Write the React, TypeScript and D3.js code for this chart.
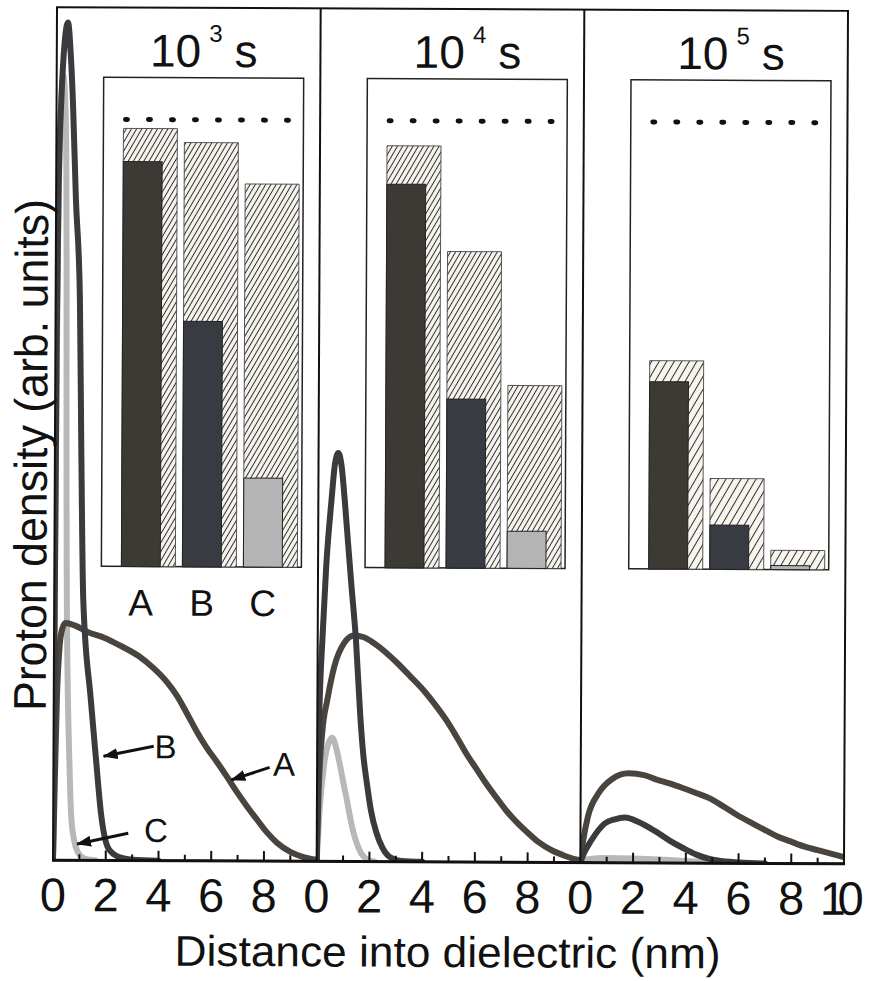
import React from "react";
import * as d3 from "d3";

type Pt = [number, number];

// ---------- data ----------
const timeExponents = ["3", "4", "5"]; // panel times: 10^n s
const categories = ["A", "B", "C"];
const minorTicks = d3.range(1, 10);
const tickLabels = [0, 2, 4, 6, 8];
const lastTickLabel = "10";

// inset bars: fraction of initial protons (dotted line = 1)
const totalFraction = [
  [0.98, 0.949, 0.857],
  [0.944, 0.708, 0.409],
  [0.466, 0.203, 0.043],
];
const retainedFraction = [
  [0.906, 0.549, 0.199],
  [0.858, 0.378, 0.083],
  [0.419, 0.099, 0.009],
];

// density profiles [nm, arb. units]
const curveA1: Pt[] = [[0,0],[0.06,10],[0.12,19],[0.2,24.5],[0.3,27],[0.43,27.8],[0.8,27.5],[1.25,26.8],[1.9,26.1],[2.5,25.2],[3.2,24],[3.8,22.5],[4.3,20.9],[4.68,19.3],[5.05,17.3],[5.44,15.1],[5.8,13.3],[6.2,11.6],[6.6,9.8],[6.96,8.1],[7.35,6.4],[7.72,4.9],[8.1,3.4],[8.48,2.2],[9.0,1.1],[9.5,0.5],[10,0.2]];
const curveB1: Pt[] = [[0,0],[0.02,30],[0.05,62],[0.1,80],[0.18,89],[0.3,96],[0.42,98.2],[0.53,94.5],[0.62,89],[0.75,77.6],[0.92,65.9],[1.0,48.3],[1.1,30.7],[1.4,19],[1.6,12.3],[1.82,5.3],[2.1,1.4],[2.5,0.4],[3,0.1],[4,0]];
const curveC1: Pt[] = [[0,0],[0.03,40],[0.08,72],[0.15,86],[0.25,92],[0.33,89],[0.38,82],[0.41,70],[0.43,55],[0.45,42],[0.48,30],[0.53,20],[0.6,12],[0.68,5.3],[0.8,2.3],[0.95,0.9],[1.2,0.2],[1.6,0]];

const curveA2: Pt[] = [[0,0],[0.06,8],[0.19,15.1],[0.38,19],[0.63,22.8],[1.0,25.6],[1.38,26.5],[1.75,26.3],[2.14,25.6],[2.6,24.5],[3.02,23.3],[3.5,21.8],[4.03,20.1],[4.5,18.3],[4.9,16.6],[5.3,14.6],[5.66,12.7],[6.05,10.9],[6.42,9.2],[6.8,7.6],[7.17,6.1],[7.55,4.8],[7.92,3.7],[8.4,2.4],[8.93,1.4],[9.4,0.8],[9.8,0.4],[10,0.3]];
const curveB2: Pt[] = [[0,0],[0.03,8],[0.06,15.1],[0.19,26.8],[0.31,34.6],[0.5,42.4],[0.62,46.5],[0.75,47.9],[0.87,46.5],[1.0,42.4],[1.13,37.5],[1.26,32.7],[1.45,26],[1.63,17],[1.75,12.5],[1.89,9.2],[2.05,6],[2.26,3.4],[2.5,1.6],[2.75,0.6],[3.2,0.1],[4,0]];
const curveC2: Pt[] = [[0,0],[0.1,6],[0.25,11],[0.42,13.8],[0.57,14.5],[0.72,13.3],[0.88,11.1],[1.0,9.2],[1.13,7.3],[1.3,4.6],[1.51,2.2],[1.7,0.9],[1.89,0.3],[2.2,0]];

const curveA3: Pt[] = [[0,0],[0.1,2.5],[0.28,5.4],[0.67,8.1],[1.18,9.8],[1.82,10.5],[2.4,10.3],[2.85,9.8],[3.4,9.3],[3.87,8.8],[4.4,8.2],[4.9,7.6],[5.4,6.7],[5.92,5.7],[6.45,4.8],[6.95,4.0],[7.45,3.2],[7.97,2.6],[8.5,2.0],[9.0,1.6],[9.5,1.2],[10,0.8]];
const curveB3: Pt[] = [[0,0],[0.15,1.2],[0.41,2.6],[0.92,4.6],[1.3,5.1],[1.69,5.3],[2.2,4.8],[2.85,3.7],[3.4,2.6],[3.87,1.8],[4.4,1.0],[4.9,0.5],[5.5,0.2],[6,0.1],[7,0]];
const curveC3: Pt[] = [[0,0],[0.3,0.4],[1,0.55],[2,0.5],[3,0.4],[4,0.25],[5,0.1],[6,0]];

const curvesA = [curveA1, curveA2, curveA3];
const curvesB = [curveB1, curveB2, curveB3];
const curvesC = [curveC1, curveC2, curveC3];

// curve annotations in first panel (data coords: nm, density)
const annLabel = ["A", "B", "C"];
const annText: Pt[] = [[8.75, 10.0], [4.25, 12.0], [3.9, 2.2]];
const annTail: Pt[] = [[8.2, 11.0], [3.8, 13.4], [2.85, 3.2]];
const annTip: Pt[] = [[6.75, 9.5], [1.9, 12.2], [0.91, 1.9]];

// ---------- styles ----------
const FONT = "'Liberation Sans', Arial, Helvetica, sans-serif";
const lineColor: Record<string, string> = { A: "#4a443e", B: "#3b3a3f", C: "#b8b8b8" };
const solidColor = ["#3d3a36", "#393b42", "#b4b4b4"];
const hatchSpacing = [4.5, 4.5, 6.5];

export default function App() {
  const W = 874, H = 981;
  const L = 55, R = 846, T = 9, B = 862;
  const pw = (R - L) / 3;
  const y = d3.scaleLinear().domain([0, 100]).range([B, T]);
  const insetTop = 79, insetBottom = 568, insetW = 200;
  const insetY = d3.scaleLinear().domain([0, 1]).range([insetBottom, 121]);

  const panels = timeExponents.map((exp, i) => {
    const x0 = L + i * pw;
    const x = d3.scaleLinear().domain([0, 10]).range([x0, x0 + pw]);
    const insetLeft = x0 + 47;
    const band = d3
      .scaleBand<string>()
      .domain(categories)
      .range([insetLeft + 20, insetLeft + 196])
      .paddingInner(0.115)
      .paddingOuter(0);
    return { exp, i, x0, x, insetLeft, band };
  });

  const x1 = panels[0].x;

  return (
    <svg
      width={W}
      height={H}
      viewBox={`0 0 ${W} ${H}`}
      style={{ position: "absolute", left: 0, top: 0, display: "block", background: "#fff" }}
      fontFamily={FONT}
    >
      <defs>
        {panels.map((p) => (
          <clipPath id={`clip${p.i}`} key={`c${p.i}`}>
            <rect x={p.x0} y={T} width={pw} height={B - T} />
          </clipPath>
        ))}
        {hatchSpacing.map((s, i) => (
          <pattern
            key={`h${i}`}
            id={`hatch${i}`}
            patternUnits="userSpaceOnUse"
            width={s}
            height={s}
            patternTransform="rotate(30)"
          >
            <rect width={s} height={s} fill="#f8f5ef" />
            <line x1={s / 2} y1={-1} x2={s / 2} y2={s + 1} stroke="#2c2c2c" strokeWidth={1.0} />
          </pattern>
        ))}
        <marker
          id="arrow"
          markerUnits="userSpaceOnUse"
          markerWidth={15}
          markerHeight={11}
          refX={14}
          refY={5.5}
          orient="auto"
        >
          <path d="M0,0 L15,5.5 L0,11 Z" fill="#111" />
        </marker>
      </defs>

      <g transform="rotate(0.27 450 435)">
        <rect x={0} y={0} width={W} height={H} fill="#fff" />

        {panels.map((p) => {
          const line = d3
            .line<Pt>()
            .x((d) => p.x(d[0]))
            .y((d) => y(d[1]))
            .curve(d3.curveMonotoneX);
          const series: [string, Pt[]][] = [
            ["C", curvesC[p.i]],
            ["A", curvesA[p.i]],
            ["B", curvesB[p.i]],
          ];
          const solidW = p.band.bandwidth() * 0.72;
          const dotY = insetY(1);
          return (
            <g key={`p${p.i}`}>
              {/* density curves */}
              <g clipPath={`url(#clip${p.i})`}>
                {series.map(([name, data]) => (
                  <path
                    key={name}
                    d={line(data) || ""}
                    fill="none"
                    stroke={lineColor[name]}
                    strokeWidth={6}
                    strokeLinejoin="round"
                    strokeLinecap="round"
                  />
                ))}
              </g>

              {/* title */}
              <text
                x={p.insetLeft + insetW / 2}
                y={68}
                textAnchor="middle"
                fontSize={46}
                fill="#111"
              >
                10
                <tspan fontSize={24} dx={8} dy={-25}>
                  {p.exp}
                </tspan>
                <tspan dx={12} dy={25}>
                  s
                </tspan>
              </text>

              {/* inset */}
              <rect
                x={p.insetLeft}
                y={insetTop}
                width={insetW}
                height={insetBottom - insetTop}
                fill="#fff"
                stroke="#222"
                strokeWidth={1.5}
              />
              <line
                x1={p.insetLeft + 22}
                x2={p.insetLeft + 22 + 161 + 2}
                y1={dotY}
                y2={dotY}
                stroke="#111"
                strokeWidth={5}
                strokeLinecap="round"
                strokeDasharray="2 21"
              />
              {categories.map((c, j) => {
                const bx = p.band(c) as number;
                const tTop = insetY(totalFraction[p.i][j]);
                const sTop = insetY(retainedFraction[p.i][j]);
                return (
                  <g key={c}>
                    <rect
                      x={bx}
                      y={tTop}
                      width={p.band.bandwidth()}
                      height={insetBottom - tTop}
                      fill={`url(#hatch${p.i})`}
                      stroke="#444"
                      strokeWidth={0.9}
                    />
                    <rect
                      x={bx}
                      y={sTop}
                      width={solidW}
                      height={insetBottom - sTop}
                      fill={solidColor[j]}
                      stroke="#222"
                      strokeWidth={1}
                    />
                  </g>
                );
              })}
              {p.i === 0 &&
                categories.map((c) => (
                  <text
                    key={`l${c}`}
                    x={(p.band(c) as number) + solidW / 2}
                    y={617}
                    textAnchor="middle"
                    fontSize={37}
                    fill="#111"
                  >
                    {c}
                  </text>
                ))}

              {/* ticks */}
              {minorTicks.map((t) => (
                <line
                  key={`t${t}`}
                  x1={p.x(t)}
                  x2={p.x(t)}
                  y1={B}
                  y2={B - (t % 2 === 0 ? 10 : 6)}
                  stroke="#111"
                  strokeWidth={2}
                />
              ))}
              {tickLabels.map((t) => (
                <text
                  key={`tl${t}`}
                  x={p.x(t)}
                  y={913}
                  textAnchor="middle"
                  fontSize={47}
                  fill="#111"
                >
                  {t}
                </text>
              ))}
              {p.i === panels.length - 1 && (
                <text
                  x={p.x(10) - 2}
                  y={913}
                  textAnchor="middle"
                  fontSize={47}
                  fill="#111"
                  textLength={44}
                  lengthAdjust="spacing"
                >
                  {lastTickLabel}
                </text>
              )}
            </g>
          );
        })}

        {/* annotations in first panel */}
        {annLabel.map((lab, k) => (
          <g key={`ann${lab}`}>
            <line
              x1={x1(annTail[k][0])}
              y1={y(annTail[k][1])}
              x2={x1(annTip[k][0])}
              y2={y(annTip[k][1])}
              stroke="#111"
              strokeWidth={3}
              markerEnd="url(#arrow)"
            />
            <text
              x={x1(annText[k][0])}
              y={y(annText[k][1])}
              textAnchor="middle"
              fontSize={33}
              fill="#111"
            >
              {lab}
            </text>
          </g>
        ))}

        {/* frame */}
        <rect x={L} y={T} width={R - L} height={B - T} fill="none" stroke="#111" strokeWidth={2} />
        {panels.slice(1).map((p) => (
          <line key={`d${p.i}`} x1={p.x0} x2={p.x0} y1={T} y2={B} stroke="#111" strokeWidth={2} />
        ))}
        <line x1={L - 1} x2={R + 1} y1={B} y2={B} stroke="#111" strokeWidth={3} />

        {/* axis titles */}
        <text
          x={450}
          y={967}
          textAnchor="middle"
          fontSize={43}
          fill="#111"
          textLength={546}
          lengthAdjust="spacingAndGlyphs"
        >
          Distance into dielectric (nm)
        </text>
        <text
          transform="translate(47,457) rotate(-90)"
          textAnchor="middle"
          fontSize={46}
          fill="#111"
          textLength={512}
          lengthAdjust="spacingAndGlyphs"
        >
          Proton density (arb. units)
        </text>
      </g>
    </svg>
  );
}
